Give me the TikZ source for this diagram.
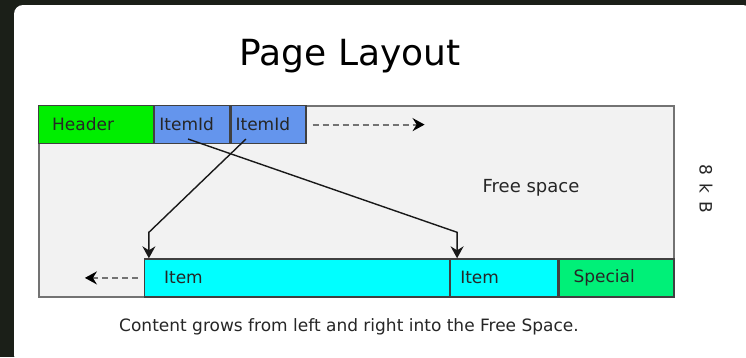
\documentclass[tikz,border=0pt]{standalone}
\usepackage{fontspec}
\setmainfont{DejaVu Sans}
\usetikzlibrary{positioning,arrows.meta}

\definecolor{darkbg}{RGB}{27,31,24}
\definecolor{pagegray}{RGB}{242,242,242}
\definecolor{hdrgreen}{RGB}{0,238,0}
\definecolor{idblue}{RGB}{100,149,237}
\definecolor{itemcyan}{RGB}{0,255,255}
\definecolor{specgreen}{RGB}{0,240,120}

\tikzset{
  cell/.style={rectangle,draw=black!75,line width=1.2pt,inner sep=0pt,minimum height=38pt,anchor=north west},
  lbl/.style={font=\fontsize{17}{17}\selectfont,text=black!85,inner sep=0pt},
  ptr/.style={-{Stealth[length=12pt,width=13pt,inset=4pt]},line width=1.4pt,black!90},
  growarrow/.style={-{Stealth[length=12pt,width=13pt,inset=4pt,black]},line width=1.8pt,black!55,dash pattern=on 6pt off 4pt}
}

\begin{document}
\begin{tikzpicture}[x=1pt,y=-1pt]
\clip (0,0) rectangle (746,357);
\fill[darkbg] (0,0) rectangle (746,357);
\fill[white,rounded corners=9pt] (14,5) rectangle (752,364);

\node[font=\fontsize{36}{36}\selectfont] (title) at (350,56) {Page Layout};

% the page
\node[rectangle,draw=black!55,fill=pagegray,line width=1.5pt,inner sep=0pt,
      minimum width=635pt,minimum height=191pt,anchor=north west] (page) at (38,105) {};

% top row: header and item ids
\node[cell,fill=hdrgreen,minimum width=115pt] (hdr) at (38,105) {};
\node[cell,fill=idblue,minimum width=75pt] (id1) at (hdr.north east) {};
\node[cell,fill=idblue,minimum width=75pt] (id2) at (id1.north east) {};
\node[lbl,right=14pt of hdr.west] (hdrtxt) {Header};
\node[lbl,right=5pt of id1.west] (id1txt) {ItemId};
\node[lbl,right=5pt of id2.west] (id2txt) {ItemId};

% bottom row: items and special space
\node[cell,fill=specgreen,minimum width=115pt,anchor=south east] (spec) at (page.south east) {};
\node[cell,fill=itemcyan,minimum width=107pt,anchor=south east] (item2) at (spec.south west) {};
\node[cell,fill=itemcyan,minimum width=305pt,anchor=south east] (item1) at (item2.south west) {};
\node[lbl,right=20pt of item1.west] (item1txt) {Item};
\node[lbl,right=10pt of item2.west] (item2txt) {Item};
\node[lbl,right=15pt of spec.west] (spectxt) {Special};

\node[lbl,font=\fontsize{18}{18}\selectfont] (free) at (531,188) {Free space};
\node[lbl,font=\fontsize{17}{17}\selectfont,rotate=-90] (size) at (706,189) {8\hspace{3pt} k\hspace{3pt} B};

% pointers from item ids to items
\coordinate (p1) at (188,139);
\coordinate (p2) at (246,139);
\draw[ptr] (p1) -- ([xshift=7pt,yshift=26pt]item2.north west) -- ([xshift=7pt]item2.north west);
\draw[ptr] (p2) -- ([xshift=5pt,yshift=26pt]item1.north west) -- ([xshift=5pt]item1.north west);

% growth directions
\draw[growarrow] ([xshift=6pt]id2.east) -- ++(112,0);
\draw[growarrow] ([xshift=-6pt]item1.west) -- ++(-53,0);

\node[font=\fontsize{17}{17}\selectfont,text=black!85] (note) at (349,327) {Content grows from left and right into the Free Space.};
\end{tikzpicture}
\end{document}
